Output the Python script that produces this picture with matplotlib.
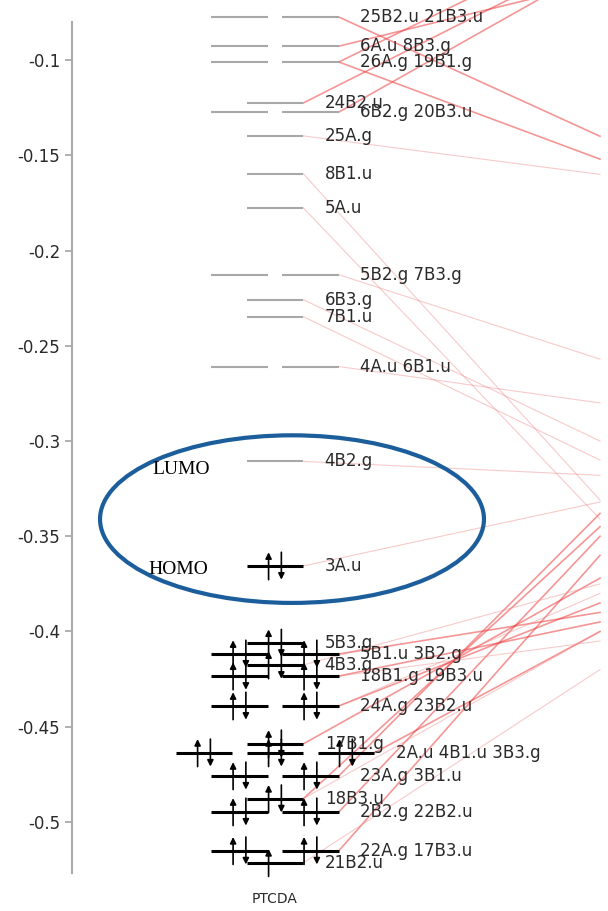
import numpy as np
import matplotlib
matplotlib.use('Agg')
import matplotlib.pyplot as plt
from matplotlib.patches import Ellipse

plt.rcParams['axes.unicode_minus'] = False

# virtual orbitals: energy (hartree) and the irreps sharing each level
empty_e = [-0.0774, -0.0927, -0.1010, -0.1225, -0.1273, -0.1398, -0.1597,
           -0.1776, -0.2127, -0.2258, -0.2347, -0.2609, -0.3107]
empty_names = [['25B2.u', '21B3.u'], ['6A.u', '8B3.g'], ['26A.g', '19B1.g'],
               ['24B2.u'], ['6B2.g', '20B3.u'], ['25A.g'], ['8B1.u'], ['5A.u'],
               ['5B2.g', '7B3.g'], ['6B3.g'], ['7B1.u'], ['4A.u', '6B1.u'],
               ['4B2.g']]

# occupied orbitals
occ_e = [-0.3656, -0.4061, -0.4118, -0.4176, -0.4234, -0.4391, -0.4590,
         -0.4637, -0.4758, -0.4878, -0.4947, -0.5151, -0.5214]
occ_names = [['3A.u'], ['5B3.g'], ['5B1.u', '3B2.g'], ['4B3.g'],
             ['18B1.g', '19B3.u'], ['24A.g', '23B2.u'], ['17B1.g'],
             ['2A.u', '4B1.u', '3B3.g'], ['23A.g', '3B1.u'], ['18B3.u'],
             ['2B2.g', '22B2.u'], ['22A.g', '17B3.u'], ['21B2.u']]

# correlation lines to the next diagram (level -> energy at right edge)
link_src = ['26A.g', '26A.g', '24B2.u', '6B2.g', '25B2.u', '6A.u',
            '23A.g', '22A.g', '2B2.g', '24A.g', '18B1.g', '5B1.u', '17B1.g',
            '2A.u', '18B3.u']
link_dst = [-0.034, -0.152, -0.044, -0.050, -0.140, -0.059,
            -0.338, -0.360, -0.350, -0.385, -0.395, -0.390, -0.372,
            -0.400, -0.345]
faint_src = ['8B1.u', '5A.u', '5B2.g', '4A.u', '4B2.g', '3A.u', '6B3.g',
             '25A.g', '7B1.u', '21B2.u', '18B3.u', '4B3.g', '19B3.u',
             '23B2.u']
faint_dst = [-0.331, -0.341, -0.257, -0.280, -0.318, -0.332, -0.300,
             -0.160, -0.310, -0.420, -0.400, -0.375, -0.405, -0.380]

yticks = [-0.1, -0.15, -0.2, -0.25, -0.3, -0.35, -0.4, -0.45, -0.5]
ytick_labels = ['-0.1', '-0.15', '-0.2', '-0.25', '-0.3', '-0.35', '-0.4',
                '-0.45', '-0.5']
molecule = 'PTCDA'

half = 0.4     # half length of a level line
dx = 0.09      # electron arrow offset
dy = 0.0072    # electron arrow half height

fig = plt.figure(figsize=(6.08, 9.11), dpi=100)
ax = fig.add_axes([72 / 608, 1 - 873 / 911, 528 / 608, 851 / 911])

level_end = {}


def draw_level(e, names, occupied):
    n = len(names)
    centers = np.arange(n) - (n - 1) / 2
    color = 'black' if occupied else '#a8a8a8'
    lw = 2.2 if occupied else 1.5
    for c in centers:
        ax.plot([c - half, c + half], [e, e], color=color, lw=lw,
                solid_capstyle='butt', clip_on=False, zorder=3)
        if occupied:
            ax.annotate('', xy=(c - dx, e + dy), xytext=(c - dx, e - dy),
                        arrowprops=dict(arrowstyle='-|>', color='black', lw=1.2,
                                        mutation_scale=9, shrinkA=0, shrinkB=0),
                        zorder=4)
            ax.annotate('', xy=(c + dx, e - dy), xytext=(c + dx, e + dy),
                        arrowprops=dict(arrowstyle='-|>', color='black', lw=1.2,
                                        mutation_scale=9, shrinkA=0, shrinkB=0),
                        zorder=4)
    ax.text(centers[-1] + half + 0.3, e, ' '.join(names), va='center',
            ha='left', fontsize=12, color='#2a2a2a', zorder=5, clip_on=False)
    for nm in names:
        level_end[nm] = (centers[-1] + half, e)


for e, names in zip(empty_e, empty_names):
    draw_level(e, names, False)
for e, names in zip(occ_e, occ_names):
    draw_level(e, names, True)

xmin, xmax = -2.86, 4.58
for src, dst in zip(link_src, link_dst):
    x0, e0 = level_end[src]
    ax.plot([x0, xmax], [e0, dst], color='#ee4040', lw=1.2, alpha=0.55,
            zorder=1, clip_on=False)
for src, dst in zip(faint_src, faint_dst):
    x0, e0 = level_end[src]
    ax.plot([x0, xmax], [e0, dst], color='#f08a8a', lw=0.8, alpha=0.45,
            zorder=1, clip_on=False)

# HOMO-LUMO gap annotation
ax.add_patch(Ellipse((0.24, -0.341), 5.41, 0.088, fill=False,
                     edgecolor='#1c5e9c', lw=3, zorder=6))
ax.text(-1.73, -0.3149, 'LUMO', family='Liberation Serif', fontsize=14,
        va='center', ha='left', color='black', zorder=6)
ax.text(-1.79, -0.3673, 'HOMO', family='Liberation Serif', fontsize=14,
        va='center', ha='left', color='black', zorder=6)

ax.set_xlim(xmin, xmax)
ax.set_ylim(-0.5268, -0.0800)
ax.set_yticks(yticks)
ax.set_yticklabels(ytick_labels)
ax.set_xticks([0])
ax.set_xticklabels([molecule])
for s in ['top', 'right', 'bottom']:
    ax.spines[s].set_visible(False)
ax.spines['left'].set_color('#aaaaaa')
ax.spines['left'].set_linewidth(1.5)
ax.tick_params(axis='y', colors='#aaaaaa', length=5, width=1.3,
               labelsize=12, labelcolor='#2a2a2a')
ax.tick_params(axis='x', length=0, pad=14, labelsize=10, labelcolor='#2a2a2a')

fig.savefig('out.png', dpi=100)
